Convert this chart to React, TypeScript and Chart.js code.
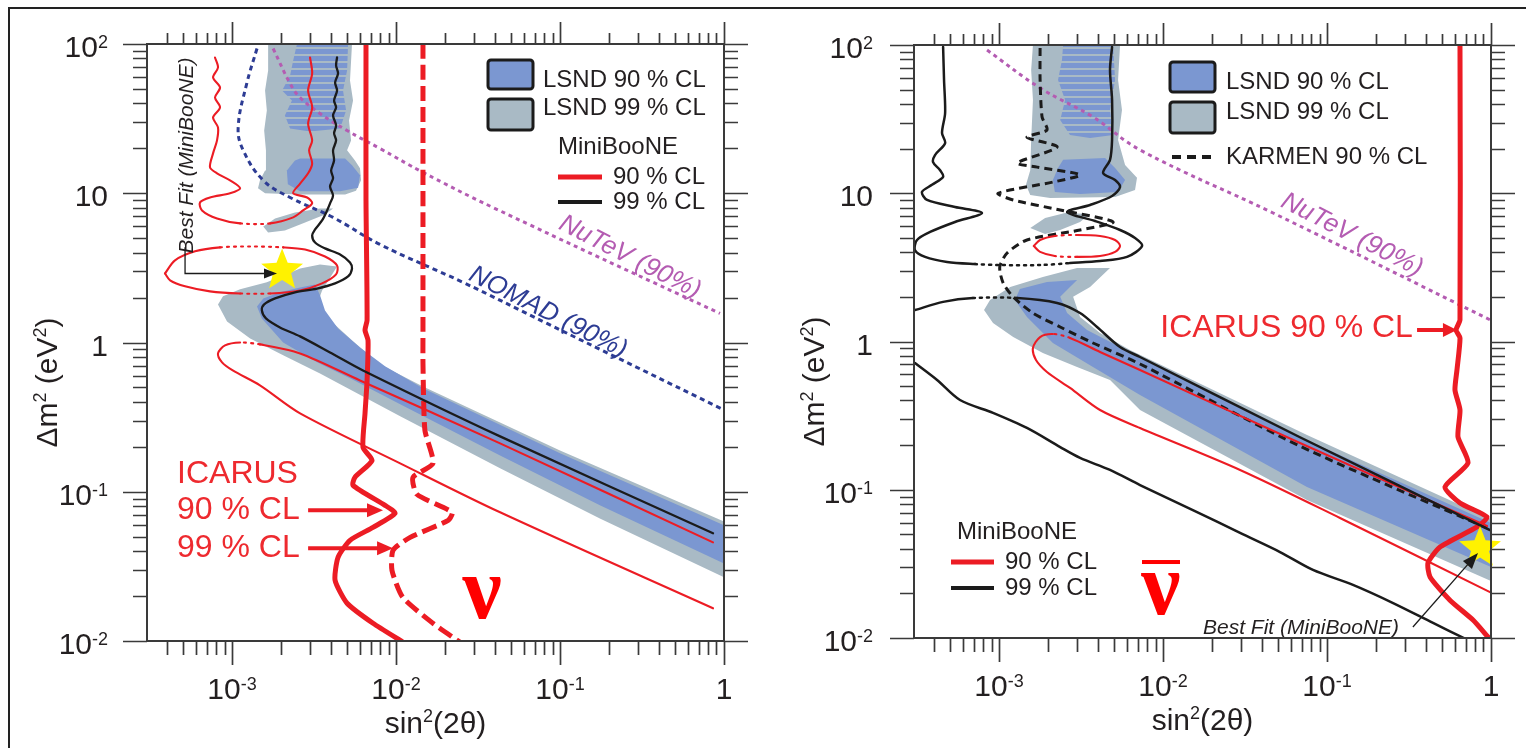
import { useEffect, useRef } from 'react';
import { Chart, registerables } from 'chart.js';

Chart.register(...registerables);

type Pt = [number, number];

const SANS = '"Liberation Sans", Arial, Helvetica, sans-serif';
const SERIF = '"Liberation Serif", "Times New Roman", serif';

// ---------------- axes ----------------
const sinRange: Pt = [3.03e-4, 1];
const dmRange: Pt = [0.01, 100];
const sinMajorTicks = [1e-3, 1e-2, 1e-1, 1];
const sinTickLabels: [string, string][] = [['10', '-3'], ['10', '-2'], ['10', '-1'], ['1', '']];
const dmMajorTicks = [1e-2, 1e-1, 1, 10, 100];
const dmTickLabels: [string, string][] = [['10', '-2'], ['10', '-1'], ['1', ''], ['10', ''], ['10', '2']];
const minorMantissas = [2, 3, 4, 5, 6, 7, 8, 9];

const COLORS = {
  lsnd99: '#A9BAC5',
  lsnd90: '#7B97D1',
  red: '#EC1C24',
  redText: '#EE2A2F',
  black: '#1B1B1B',
  nomad: '#2D3C94',
  nutev: '#B45CB2',
  axis: '#3A3A3A',
  text: '#231F20',
  star: '#FFF200',
  nu: '#FF0000',
};

// ---------------- neutrino panel (sin²2θ, Δm² in eV²) ----------------
const nuLsnd99Band: Pt[] = [[1.66e-3, 100], [5.39e-3, 100], [5.24e-3, 56.9], [5.47e-3, 41.8], [5.17e-3, 30.7], [5.32e-3, 22.6], [5.03e-3, 19.4], [5.62e-3, 16.6], [6.03e-3, 14.7], [6.12e-3, 12.2], [5.70e-3, 10.4], [4.89e-3, 9.82], [2.60e-3, 9.82], [1.59e-3, 10.0], [1.44e-3, 10.8], [1.48e-3, 12.2], [1.59e-3, 14.2], [1.61e-3, 19.4], [1.57e-3, 26.3], [1.63e-3, 35.9], [1.59e-3, 48.8], [1.66e-3, 66.4]];
const nuLsnd90Stripes: Pt[] = [[2.49e-3, 100], [5.10e-3, 100], [5.03e-3, 66.4], [4.75e-3, 48.8], [4.96e-3, 35.9], [4.56e-3, 27.2], [2.99e-3, 25.9], [2.26e-3, 27.2], [2.10e-3, 33.2], [2.32e-3, 41.8], [2.02e-3, 48.8], [2.26e-3, 61.5], [2.36e-3, 77.5]];
const nuLsnd90Patch: Pt[] = [[2.60e-3, 17.1], [4.89e-3, 17.1], [5.39e-3, 15.4], [6.03e-3, 13.2], [5.87e-3, 10.9], [4.56e-3, 10.3], [2.60e-3, 10.3], [2.19e-3, 11.5], [2.16e-3, 14.2], [2.42e-3, 16.6]];
const nuLsnd99Island: Pt[] = [[1.55e-3, 5.99], [1.83e-3, 6.78], [2.42e-3, 7.43], [3.44e-3, 7.91], [4.13e-3, 7.91], [3.69e-3, 7.21], [2.79e-3, 6.37], [2.10e-3, 5.63], [1.66e-3, 5.46]];
const nuLsnd99Main: Pt[] = [[4.37e-3, 3.23], [3.54e-3, 2.23], [3.34e-3, 1.86], [3.96e-3, 1.41], [5.47e-3, 1.02], [7.99e-3, 0.713], [1.46e-2, 0.508], [0.1, 0.189], [1, 0.0633], [1, 0.0267], [0.175, 0.0663], [4.31e-2, 0.1435], [1.06e-2, 0.32], [3.44e-3, 0.621], [2.05e-3, 0.82], [1.29e-3, 1.065], [9.32e-4, 1.385], [8.21e-4, 1.8], [8.81e-4, 2.04], [1.12e-3, 2.27], [1.63e-3, 2.53], [2.60e-3, 3.13], [3.44e-3, 3.33]];
const nuLsnd90Main: Pt[] = [[1.42e-3, 1.745], [1.55e-3, 1.975], [1.96e-3, 2.17], [2.60e-3, 2.34], [3.21e-3, 2.45], [3.44e-3, 2.07], [3.69e-3, 1.64], [4.43e-3, 1.243], [6.03e-3, 0.927], [8.57e-3, 0.692], [1.46e-2, 0.493], [0.1, 0.181], [1, 0.0596], [1, 0.0331], [0.175, 0.0811], [4.31e-2, 0.175], [1.06e-2, 0.385], [5.24e-3, 0.575], [3.30e-3, 0.736], [2.05e-3, 1.0], [1.52e-3, 1.45]];

const nuMb99: Pt[] = [[4.37e-3, 81.2], [4.31e-3, 71.8], [4.43e-3, 63.4], [4.25e-3, 55.2], [4.37e-3, 48.8], [4.19e-3, 41.8], [4.31e-3, 37.6], [4.13e-3, 33.2], [4.31e-3, 28.5], [4.19e-3, 25.2], [4.31e-3, 22.6], [4.13e-3, 19.4], [4.19e-3, 16.6], [4.02e-3, 14.2], [4.13e-3, 12.6], [3.96e-3, 11.1], [4.13e-3, 9.67], [3.96e-3, 8.55], [3.80e-3, 7.67], [3.54e-3, 6.57], [3.21e-3, 5.72], [3.08e-3, 5.22], [3.21e-3, 4.68], [3.69e-3, 4.27], [4.56e-3, 3.89], [5.24e-3, 3.44], [5.39e-3, 3.13], [5.10e-3, 2.77], [4.25e-3, 2.49], [3.30e-3, 2.3], [2.42e-3, 2.17], [1.83e-3, 1.975], [1.57e-3, 1.8], [1.52e-3, 1.64], [1.61e-3, 1.45], [1.96e-3, 1.262], [2.60e-3, 1.099], [3.96e-3, 0.858], [6.29e-3, 0.65], [4.31e-2, 0.235], [0.857, 0.0527]];
const nuMb90Upper: Pt[] = [[7.87e-4, 81.2], [8.21e-4, 69.6], [7.66e-4, 59.7], [8.45e-4, 51.1], [7.87e-4, 43.8], [8.45e-4, 37.6], [7.66e-4, 32.2], [8.21e-4, 27.6], [8.10e-4, 22.6], [7.66e-4, 18.5], [7.34e-4, 14.9], [8.10e-4, 13.6], [9.72e-4, 12.2], [1.12e-3, 10.8], [9.72e-4, 10.0], [7.34e-4, 9.37], [6.38e-4, 8.68], [6.56e-4, 7.67], [8.10e-4, 6.78], [1.12e-3, 6.28], [1.71e-3, 6.28], [2.36e-3, 6.89], [2.71e-3, 7.67], [3.08e-3, 8.55], [2.87e-3, 9.37], [2.36e-3, 10.0], [2.60e-3, 11.6], [2.91e-3, 13.6], [3.08e-3, 15.8], [2.95e-3, 19.4], [3.08e-3, 22.6], [2.91e-3, 29.3], [3.08e-3, 37.6], [2.91e-3, 48.8], [3.08e-3, 63.4], [2.99e-3, 81.2]];
const nuMb90Island: Pt[] = [[3.90e-4, 2.9], [4.49e-4, 3.55], [5.95e-4, 4.08], [8.45e-4, 4.34], [1.29e-3, 4.4], [2.05e-3, 4.34], [2.79e-3, 4.2], [3.69e-3, 3.77], [4.37e-3, 3.28], [4.31e-3, 2.86], [3.54e-3, 2.49], [2.60e-3, 2.23], [1.71e-3, 2.13], [1.12e-3, 2.13], [7.34e-4, 2.2], [5.17e-4, 2.38], [4.19e-4, 2.61], [3.90e-4, 2.9]];
const nuMb90Lower: Pt[] = [[0.857, 0.0458], [4.31e-2, 0.211], [6.03e-3, 0.557], [2.60e-3, 0.845], [1.48e-3, 0.971], [1.12e-3, 1.0], [9.06e-4, 0.956], [8.21e-4, 0.845], [8.69e-4, 0.736], [1.01e-3, 0.65], [1.48e-3, 0.516], [2.60e-3, 0.335], [1.06e-2, 0.155], [4.31e-2, 0.0728], [0.857, 0.01656]];
const nuIcarus90: Pt[] = [[6.56e-3, 100], [6.56e-3, 8.95], [6.66e-3, 1.41], [6.47e-3, 1.21], [6.75e-3, 1.03], [6.66e-3, 0.557], [6.47e-3, 0.335], [6.29e-3, 0.198], [7.14e-3, 0.162], [5.62e-3, 0.125], [5.47e-3, 0.1104], [8.57e-3, 0.0811], [9.86e-3, 0.0717], [7.24e-3, 0.0577], [5.24e-3, 0.0473], [4.43e-3, 0.0364], [4.25e-3, 0.0255], [5.03e-3, 0.0179], [7.24e-3, 0.01314], [1.09e-2, 0.0099]];
const nuIcarus99: Pt[] = [[1.46e-2, 100], [1.46e-2, 1.21], [1.46e-2, 0.723], [1.50e-2, 0.258], [1.68e-2, 0.155], [1.27e-2, 0.125], [1.34e-2, 0.0962], [2.20e-2, 0.0728], [2.08e-2, 0.0643], [1.22e-2, 0.0495], [9.59e-3, 0.0405], [9.45e-3, 0.0297], [1.10e-2, 0.0196], [1.68e-2, 0.01314], [2.46e-2, 0.0098]];
const nomad90: Pt[] = [[1.42e-3, 93.3], [1.23e-3, 54.4], [1.09e-3, 27.6], [1.17e-3, 19.4], [1.55e-3, 12.2], [2.26e-3, 9.37], [4.13e-3, 6.89], [7.98e-3, 4.54], [2.56e-2, 2.53], [8.33e-2, 1.342], [0.986, 0.356]];
const nutevNu: Pt[] = [[1.78e-3, 93.3], [2.26e-3, 54.4], [2.60e-3, 43.8], [3.44e-3, 34.2], [5.03e-3, 26.3], [7.98e-3, 19.95], [1.46e-2, 13.8], [3.90e-2, 8.03], [0.945, 1.566]];
const nuBestFit: Pt = [2.02e-3, 3.04];

// ---------------- antineutrino panel ----------------
const nubarLsnd99Band: Pt[] = [[1.61e-3, 100], [5.47e-3, 100], [5.32e-3, 58.1], [5.62e-3, 36.4], [5.32e-3, 22.9], [5.87e-3, 15.5], [6.94e-3, 12.7], [6.75e-3, 10.5], [5.10e-3, 9.43], [2.05e-3, 9.29], [1.55e-3, 9.73], [1.46e-3, 11.4], [1.55e-3, 14.3], [1.57e-3, 22.9], [1.61e-3, 42.6], [1.57e-3, 67.8]];
const nubarLsnd90Stripes: Pt[] = [[2.46e-3, 100], [4.96e-3, 100], [5.10e-3, 58.1], [4.75e-3, 36.4], [4.96e-3, 24.7], [3.59e-3, 23.6], [2.71e-3, 24.7], [2.36e-3, 31.2], [2.53e-3, 42.6], [2.29e-3, 58.1], [2.42e-3, 79.2]];
const nubarLsnd90Patch: Pt[] = [[2.46e-3, 16.8], [4.43e-3, 17.3], [5.10e-3, 14.8], [5.87e-3, 12.3], [5.32e-3, 10.2], [3.12e-3, 9.88], [2.19e-3, 10.2], [2.13e-3, 12.3], [2.29e-3, 14.8]];
const nubarLsnd99Island: Pt[] = [[1.55e-3, 5.83], [1.91e-3, 6.81], [2.53e-3, 7.36], [3.59e-3, 7.24], [3.12e-3, 6.4], [2.36e-3, 5.65], [1.91e-3, 5.31]];
const nubarLsnd99Main: Pt[] = [[4.75e-3, 3.13], [3.59e-3, 2.33], [2.83e-3, 2.0], [3.12e-3, 1.463], [4.13e-3, 1.141], [6.29e-3, 0.877], [7.55e-2, 0.234], [1, 0.0635], [1, 0.0242], [7.55e-2, 0.0853], [7.24e-3, 0.345], [4.75e-3, 0.55], [2.99e-3, 0.673], [1.85e-3, 0.836], [1.22e-3, 1.072], [9.19e-4, 1.333], [8.10e-4, 1.63], [8.81e-4, 1.905], [1.17e-3, 2.33], [1.85e-3, 2.72], [2.99e-3, 3.13]];
const nubarLsnd90Main: Pt[] = [[2.99e-3, 2.6], [2.36e-3, 2.0], [2.60e-3, 1.556], [3.44e-3, 1.196], [5.47e-3, 0.918], [7.55e-2, 0.216], [1, 0.0597], [1, 0.0301], [7.55e-2, 0.1044], [7.24e-3, 0.436], [3.74e-3, 0.673], [2.13e-3, 0.977], [1.48e-3, 1.463], [1.25e-3, 1.905], [1.34e-3, 2.26], [1.96e-3, 2.52]];

const nubarMb99Upper: Pt[] = [[4.56e-4, 96.9], [4.62e-4, 58.1], [4.69e-4, 34.8], [4.49e-4, 25.5], [4.69e-4, 21.8], [4.07e-4, 18.1], [3.96e-4, 16.2], [4.37e-4, 14.3], [4.56e-4, 12.9], [3.90e-4, 11.4], [3.39e-4, 10.2], [3.64e-4, 9.01], [5.39e-4, 8.08], [7.87e-4, 7.36], [5.39e-4, 6.4], [3.80e-4, 5.48], [3.16e-4, 4.84], [3.07e-4, 4.14], [3.54e-4, 3.72], [4.82e-4, 3.44], [7.14e-4, 3.33], [1.01e-3, 3.28], [1.78e-3, 3.28], [2.71e-3, 3.38], [4.13e-3, 3.49], [6.03e-3, 3.72], [7.45e-3, 4.41], [6.75e-3, 4.99], [5.47e-3, 5.65], [3.85e-3, 6.5], [2.60e-3, 7.47], [3.59e-3, 8.33], [4.89e-3, 9.58], [5.47e-3, 11.0], [5.10e-3, 12.3], [4.31e-3, 13.7], [4.75e-3, 16.8], [4.89e-3, 22.9], [4.89e-3, 42.6], [4.75e-3, 67.8], [4.89e-3, 96.9]];
const nubarMb99Band: Pt[] = [[3.07e-4, 1.63], [4.56e-4, 1.85], [6.94e-4, 1.965], [1.29e-3, 1.965], [2.26e-3, 1.82], [3.12e-3, 1.556], [3.96e-3, 1.253], [5.47e-3, 0.918], [7.24e-3, 0.786], [6.84e-2, 0.226], [0.986, 0.0535]];
const nubarMb99Lower: Pt[] = [[3.07e-4, 0.716], [4.19e-4, 0.55], [5.78e-4, 0.403], [9.19e-4, 0.33], [1.48e-3, 0.261], [2.36e-3, 0.194], [3.12e-3, 0.164], [4.75e-3, 0.136], [7.24e-3, 0.1076], [1.52e-2, 0.073], [2.95e-2, 0.0511], [5.17e-2, 0.038], [8.21e-2, 0.0288], [0.144, 0.0228], [0.253, 0.0172], [0.443, 0.01263], [0.694, 0.0099]];
const karmen90: Pt[] = [[1.78e-3, 95.4], [1.78e-3, 58.1], [1.83e-3, 32.7], [1.96e-3, 26.7], [1.48e-3, 23.9], [2.26e-3, 20.5], [1.29e-3, 16.0], [1.71e-3, 15.0], [3.12e-3, 13.3], [2.13e-3, 11.9], [9.86e-4, 10.0], [1.22e-3, 9.01], [2.36e-3, 7.71], [4.96e-3, 6.4], [3.12e-3, 5.65], [1.48e-3, 4.84], [1.12e-3, 3.95], [1.01e-3, 3.18], [1.06e-3, 2.48], [1.22e-3, 2.0], [1.61e-3, 1.556], [2.36e-3, 1.253], [3.74e-3, 0.977], [7.24e-3, 0.705], [6.84e-2, 0.197], [0.945, 0.0552]];
const nubarMb90Island: Pt[] = [[1.63e-3, 4.41], [1.78e-3, 4.84], [2.19e-3, 5.15], [2.99e-3, 5.23], [4.13e-3, 5.15], [5.10e-3, 4.84], [5.47e-3, 4.41], [5.10e-3, 4.02], [4.13e-3, 3.77], [2.99e-3, 3.72], [2.19e-3, 3.77], [1.78e-3, 4.02], [1.63e-3, 4.41]];
const nubarMb90Lower: Pt[] = [[0.945, 0.0569], [6.84e-2, 0.2066], [7.24e-3, 0.642], [4.13e-3, 0.85], [2.71e-3, 1.056], [2.13e-3, 1.124], [1.78e-3, 1.072], [1.61e-3, 0.904], [1.68e-3, 0.75], [1.96e-3, 0.623], [2.71e-3, 0.486], [4.13e-3, 0.345], [7.24e-3, 0.261], [2.95e-2, 0.136], [0.12, 0.0645], [0.986, 0.0204]];
const nubarIcarus90: Pt[] = [[0.647, 100], [0.647, 1.4], [0.612, 1.196], [0.647, 1.056], [0.62, 0.642], [0.603, 0.471], [0.647, 0.345], [0.629, 0.227], [0.724, 0.1516], [0.524, 0.1044], [0.647, 0.0814], [0.945, 0.0655], [0.821, 0.0561], [0.489, 0.0411], [0.413, 0.0321], [0.425, 0.0258], [0.562, 0.018], [0.777, 0.01322], [0.959, 0.01016]];
const nutevNubar: Pt[] = [[8.45e-4, 92.5], [1.78e-3, 51.3], [3.74e-3, 32.7], [7.24e-3, 19.6], [4.69e-2, 7.36], [0.986, 1.4]];
const nubarBestFit: Pt = [0.857, 0.0405];

// ---------------- dataset helpers ----------------
const toXY = (pts: Pt[]) => pts.map(([x, y]) => ({ x, y }));

// Horizontal banding used for the high-Δm² part of the LSND 90% region
let stripeCache: CanvasPattern | null = null;
function lsndStripes(ctx: CanvasRenderingContext2D): CanvasPattern | string {
  if (stripeCache) return stripeCache;
  const c = document.createElement('canvas');
  c.width = 4;
  c.height = 7;
  const g = c.getContext('2d');
  if (!g) return COLORS.lsnd90;
  g.fillStyle = COLORS.lsnd90;
  g.fillRect(0, 0, 4, 5);
  g.fillStyle = COLORS.lsnd99;
  g.fillRect(0, 5, 4, 2);
  stripeCache = ctx.createPattern(c, 'repeat');
  return stripeCache || COLORS.lsnd90;
}

function region(pts: Pt[], color: any, order: number) {
  return {
    data: toXY(pts),
    fill: 'shape',
    backgroundColor: color,
    borderWidth: 0,
    pointRadius: 0,
    tension: 0,
    order,
  };
}

interface CurveStyle {
  color: string;
  width: number;
  dash?: number[];
  dotted?: [number, number][];
  tension?: number;
  order?: number;
}

function curve(pts: Pt[], s: CurveStyle) {
  const dotted = s.dotted || [];
  return {
    data: toXY(pts),
    fill: false,
    borderColor: s.color,
    borderWidth: s.width,
    borderDash: s.dash || [],
    borderCapStyle: s.dash ? 'butt' : 'round',
    borderJoinStyle: 'round',
    pointRadius: 0,
    tension: s.tension ?? 0.3,
    order: s.order ?? 40,
    segment: {
      borderDash: (ctx: any) =>
        dotted.some(([a, b]) => ctx.p0DataIndex >= a && ctx.p1DataIndex <= b) ? [2, 5] : undefined,
    },
  };
}

const stripeFill = (c: any) => lsndStripes(c.chart.ctx);

// ---------------- annotations ----------------
interface TextNote { text: string; at: Pt; font: string; color: string; align?: CanvasTextAlign; rotate?: number }
interface ArrowNote { path: Pt[]; color: string; width: number; head: number; half: number }
type LegendItem =
  | { kind: 'box'; x: number; y: number; w: number; h: number; fill: string }
  | { kind: 'line'; x1: number; x2: number; y: number; color: string; width: number; dash?: number[] }
  | { kind: 'text'; x: number; y: number; text: string };

interface PanelSpec {
  id: string;
  padding: { left: number; top: number; right: number; bottom: number };
  datasets: any[];
  stars: Pt[];
  texts: TextNote[];
  arrows: ArrowNote[];
  legend: LegendItem[];
  nu: { at: Pt; bar: boolean };
  yLabelGap: number;
}

const italic = (px: number) => `italic ${px}px ${SANS}`;

const nuPanel: PanelSpec = {
  id: 'nu',
  padding: { left: 147, top: 44, right: 39, bottom: 107 },
  datasets: [
    region(nuLsnd99Band, COLORS.lsnd99, 100),
    region(nuLsnd99Island, COLORS.lsnd99, 100),
    region(nuLsnd99Main, COLORS.lsnd99, 100),
    region(nuLsnd90Stripes, stripeFill, 90),
    region(nuLsnd90Patch, COLORS.lsnd90, 90),
    region(nuLsnd90Main, COLORS.lsnd90, 90),
    curve(nutevNu, { color: COLORS.nutev, width: 3, dash: [4, 4], tension: 0.4, order: 60 }),
    curve(nomad90, { color: COLORS.nomad, width: 3, dash: [5, 4], tension: 0.4, order: 60 }),
    curve(nuIcarus90, { color: COLORS.red, width: 5, tension: 0.2, order: 50 }),
    curve(nuIcarus99, { color: COLORS.red, width: 5, dash: [15, 6], tension: 0.2, order: 50 }),
    curve(nuMb99, { color: COLORS.black, width: 2.3 }),
    curve(nuMb90Upper, { color: COLORS.red, width: 2.1, dotted: [[19, 20]] }),
    curve(nuMb90Island, { color: COLORS.red, width: 2.1, dotted: [[3, 5], [12, 13]] }),
    curve(nuMb90Lower, { color: COLORS.red, width: 2.1, dotted: [[4, 5]] }),
  ],
  stars: [nuBestFit],
  texts: [
    { text: 'NuTeV (90%)', at: [0.267, 3.72], font: italic(26), color: COLORS.nutev, rotate: 27 },
    { text: 'NOMAD (90%)', at: [8.45e-2, 1.59], font: italic(26), color: COLORS.nomad, rotate: 27 },
    { text: 'Best Fit (MiniBooNE)', at: [5.32e-4, 17.9], font: italic(21), color: COLORS.text, rotate: -90 },
    { text: 'ICARUS', at: [4.62e-4, 0.1307], font: `32px ${SANS}`, color: COLORS.redText, align: 'left' },
    { text: '90 % CL', at: [4.62e-4, 0.0751], font: `32px ${SANS}`, color: COLORS.redText, align: 'left' },
    { text: '99 % CL', at: [4.62e-4, 0.0418], font: `32px ${SANS}`, color: COLORS.redText, align: 'left' },
  ],
  arrows: [
    { path: [[5.17e-4, 4.34], [5.17e-4, 2.9], [1.88e-3, 2.9]], color: COLORS.black, width: 1.3, head: 13, half: 5 },
    { path: [[2.91e-3, 0.0751], [8.33e-3, 0.0751]], color: COLORS.red, width: 4, head: 16, half: 7 },
    { path: [[2.91e-3, 0.0418], [9.59e-3, 0.0418]], color: COLORS.red, width: 4, head: 16, half: 7 },
  ],
  legend: [
    { kind: 'box', x: 341, y: 16, w: 45, h: 29, fill: COLORS.lsnd90 },
    { kind: 'box', x: 341, y: 55, w: 45, h: 31, fill: COLORS.lsnd99 },
    { kind: 'text', x: 396, y: 36, text: 'LSND 90 % CL' },
    { kind: 'text', x: 396, y: 64, text: 'LSND 99 % CL' },
    { kind: 'text', x: 411, y: 103, text: 'MiniBooNE' },
    { kind: 'line', x1: 411, x2: 455, y: 133, color: COLORS.red, width: 5 },
    { kind: 'line', x1: 411, x2: 455, y: 158, color: COLORS.black, width: 4 },
    { kind: 'text', x: 466, y: 133, text: '90 % CL' },
    { kind: 'text', x: 466, y: 158, text: '99 % CL' },
  ],
  nu: { at: [3.35e-2, 0.0193], bar: false },
  yLabelGap: 39,
};

const nubarPanel: PanelSpec = {
  id: 'nubar',
  padding: { left: 151, top: 45, right: 35, bottom: 110 },
  datasets: [
    region(nubarLsnd99Band, COLORS.lsnd99, 100),
    region(nubarLsnd99Island, COLORS.lsnd99, 100),
    region(nubarLsnd99Main, COLORS.lsnd99, 100),
    region(nubarLsnd90Stripes, stripeFill, 90),
    region(nubarLsnd90Patch, COLORS.lsnd90, 90),
    region(nubarLsnd90Main, COLORS.lsnd90, 90),
    curve(nutevNubar, { color: COLORS.nutev, width: 3, dash: [4, 4], tension: 0.4, order: 60 }),
    curve(nubarIcarus90, { color: COLORS.red, width: 5, tension: 0.2, order: 50 }),
    curve(karmen90, { color: COLORS.black, width: 3, dash: [8, 5], tension: 0.25, order: 45 }),
    curve(nubarMb99Upper, { color: COLORS.black, width: 2.5, dotted: [[20, 23]] }),
    curve(nubarMb99Band, { color: COLORS.black, width: 2.5, dotted: [[2, 3]] }),
    curve(nubarMb99Lower, { color: COLORS.black, width: 2.5 }),
    curve(nubarMb90Island, { color: COLORS.red, width: 2.1, dotted: [[2, 3], [9, 10]] }),
    curve(nubarMb90Lower, { color: COLORS.red, width: 2.1, dotted: [[4, 5]] }),
  ],
  stars: [nubarBestFit],
  texts: [
    { text: 'NuTeV (90%)', at: [0.142, 5.23], font: italic(26), color: COLORS.nutev, rotate: 27 },
    { text: 'ICARUS 90 % CL', at: [0.334, 1.233], font: `32px ${SANS}`, color: COLORS.redText, align: 'right' },
    { text: 'Best Fit (MiniBooNE)', at: [6.94e-2, 0.0117], font: italic(21), color: COLORS.text },
  ],
  arrows: [
    { path: [[0.354, 1.196], [0.62, 1.196]], color: COLORS.red, width: 4, head: 14, half: 7 },
    { path: [[0.334, 0.01187], [0.833, 0.0375]], color: COLORS.black, width: 1.3, head: 16, half: 6 },
  ],
  legend: [
    { kind: 'box', x: 256, y: 17, w: 45, h: 30, fill: COLORS.lsnd90 },
    { kind: 'box', x: 256, y: 57, w: 45, h: 31, fill: COLORS.lsnd99 },
    { kind: 'text', x: 312, y: 37, text: 'LSND 90 % CL' },
    { kind: 'text', x: 312, y: 67, text: 'LSND 99 % CL' },
    { kind: 'line', x1: 258, x2: 299, y: 112, color: COLORS.black, width: 4, dash: [9, 6] },
    { kind: 'text', x: 312, y: 112, text: 'KARMEN 90 % CL' },
    { kind: 'text', x: 43, y: 487, text: 'MiniBooNE' },
    { kind: 'line', x1: 37, x2: 80, y: 517, color: COLORS.red, width: 5 },
    { kind: 'line', x1: 37, x2: 80, y: 543, color: COLORS.black, width: 4 },
    { kind: 'text', x: 91, y: 517, text: '90 % CL' },
    { kind: 'text', x: 91, y: 543, text: '99 % CL' },
  ],
  nu: { at: [9.72e-3, 0.0198], bar: true },
  yLabelGap: 41,
};

// ---------------- drawing helpers ----------------
function logMinorTicks(range: Pt) {
  const out: number[] = [];
  const lo = Math.floor(Math.log10(range[0]));
  const hi = Math.ceil(Math.log10(range[1]));
  for (let e = lo; e <= hi; e++) {
    for (const m of minorMantissas) {
      const v = m * Math.pow(10, e);
      if (v > range[0] * 1.001 && v < range[1] * 0.999) out.push(v);
    }
  }
  return out;
}

function drawPower(ctx: CanvasRenderingContext2D, base: string, exp: string, x: number, y: number, align: 'center' | 'right') {
  ctx.font = `30px ${SANS}`;
  const wb = ctx.measureText(base).width;
  ctx.font = `18px ${SANS}`;
  const we = exp ? ctx.measureText(exp).width : 0;
  const start = align === 'center' ? x - (wb + we) / 2 : x - (wb + we);
  ctx.textAlign = 'left';
  ctx.textBaseline = 'alphabetic';
  ctx.font = `30px ${SANS}`;
  ctx.fillText(base, start, y);
  if (exp) {
    ctx.font = `18px ${SANS}`;
    ctx.fillText(exp, start + wb, y - 9);
  }
}

// Text with superscript pieces, centred on x, baseline y
function drawRich(ctx: CanvasRenderingContext2D, parts: [string, boolean][], x: number, y: number) {
  const fontOf = (sup: boolean) => (sup ? `18px ${SANS}` : `30px ${SANS}`);
  let total = 0;
  for (const [t, sup] of parts) {
    ctx.font = fontOf(sup);
    total += ctx.measureText(t).width;
  }
  let cx = x - total / 2;
  ctx.textAlign = 'left';
  ctx.textBaseline = 'alphabetic';
  for (const [t, sup] of parts) {
    ctx.font = fontOf(sup);
    ctx.fillText(t, cx, sup ? y - 11 : y);
    cx += ctx.measureText(t).width;
  }
}

function drawStar(ctx: CanvasRenderingContext2D, cx: number, cy: number, R: number, r: number) {
  ctx.beginPath();
  for (let i = 0; i < 10; i++) {
    const ang = -Math.PI / 2 + (i * Math.PI) / 5;
    const rad = i % 2 === 0 ? R : r;
    const px = cx + rad * Math.cos(ang);
    const py = cy + rad * Math.sin(ang);
    if (i === 0) ctx.moveTo(px, py);
    else ctx.lineTo(px, py);
  }
  ctx.closePath();
  ctx.fillStyle = COLORS.star;
  ctx.fill();
}

function drawArrow(ctx: CanvasRenderingContext2D, pts: { x: number; y: number }[], a: ArrowNote) {
  const n = pts.length;
  const tip = pts[n - 1];
  const prev = pts[n - 2];
  const ang = Math.atan2(tip.y - prev.y, tip.x - prev.x);
  const bx = tip.x - a.head * Math.cos(ang);
  const by = tip.y - a.head * Math.sin(ang);
  ctx.strokeStyle = a.color;
  ctx.fillStyle = a.color;
  ctx.lineWidth = a.width;
  ctx.lineCap = 'butt';
  ctx.setLineDash([]);
  ctx.beginPath();
  ctx.moveTo(pts[0].x, pts[0].y);
  for (let i = 1; i < n - 1; i++) ctx.lineTo(pts[i].x, pts[i].y);
  ctx.lineTo(bx + Math.cos(ang), by + Math.sin(ang));
  ctx.stroke();
  ctx.beginPath();
  ctx.moveTo(tip.x, tip.y);
  ctx.lineTo(bx + a.half * Math.sin(ang), by - a.half * Math.cos(ang));
  ctx.lineTo(bx - a.half * Math.sin(ang), by + a.half * Math.cos(ang));
  ctx.closePath();
  ctx.fill();
}

function decorPlugin(spec: PanelSpec) {
  const xMinor = logMinorTicks(sinRange);
  const yMinor = logMinorTicks(dmRange);
  return {
    id: `decor-${spec.id}`,
    afterDatasetsDraw(chart: any) {
      const { ctx, chartArea: a, scales } = chart;
      const X = (v: number) => scales.x.getPixelForValue(v);
      const Y = (v: number) => scales.y.getPixelForValue(v);
      ctx.save();

      // best-fit stars
      for (const s of spec.stars) drawStar(ctx, X(s[0]), Y(s[1]), 22, 9.5);

      // arrows
      for (const ar of spec.arrows) drawArrow(ctx, ar.path.map(([x, y]) => ({ x: X(x), y: Y(y) })), ar);

      // text labels
      for (const t of spec.texts) {
        ctx.save();
        ctx.translate(X(t.at[0]), Y(t.at[1]));
        if (t.rotate) ctx.rotate((t.rotate * Math.PI) / 180);
        ctx.font = t.font;
        ctx.fillStyle = t.color;
        ctx.textAlign = t.align || 'center';
        ctx.textBaseline = 'middle';
        ctx.fillText(t.text, 0, 0);
        ctx.restore();
      }

      // neutrino symbol
      {
        const cx = X(spec.nu.at[0]);
        const cy = Y(spec.nu.at[1]);
        ctx.font = `bold 88px ${SERIF}`;
        ctx.fillStyle = COLORS.nu;
        ctx.textAlign = 'center';
        ctx.textBaseline = 'alphabetic';
        ctx.fillText('\u03BD', cx, cy + 20);
        if (spec.nu.bar) {
          ctx.fillRect(cx - 19, cy - 34, 38, 4);
        }
      }

      // legend
      for (const it of spec.legend) {
        if (it.kind === 'box') {
          ctx.fillStyle = it.fill;
          ctx.strokeStyle = COLORS.black;
          ctx.lineWidth = 3;
          ctx.setLineDash([]);
          ctx.beginPath();
          const bx = a.left + it.x;
          const by = a.top + it.y;
          if ((ctx as any).roundRect) (ctx as any).roundRect(bx, by, it.w, it.h, 3);
          else ctx.rect(bx, by, it.w, it.h);
          ctx.fill();
          ctx.stroke();
        } else if (it.kind === 'line') {
          ctx.strokeStyle = it.color;
          ctx.lineWidth = it.width;
          ctx.lineCap = 'butt';
          ctx.setLineDash(it.dash || []);
          ctx.beginPath();
          ctx.moveTo(a.left + it.x1, a.top + it.y);
          ctx.lineTo(a.left + it.x2, a.top + it.y);
          ctx.stroke();
          ctx.setLineDash([]);
        } else {
          ctx.font = `24px ${SANS}`;
          ctx.fillStyle = COLORS.text;
          ctx.textAlign = 'left';
          ctx.textBaseline = 'middle';
          ctx.fillText(it.text, a.left + it.x, a.top + it.y);
        }
      }

      // frame and ticks
      ctx.setLineDash([]);
      ctx.strokeStyle = COLORS.axis;
      ctx.lineWidth = 2;
      ctx.strokeRect(a.left, a.top, a.right - a.left, a.bottom - a.top);
      ctx.lineWidth = 1.7;
      ctx.lineCap = 'butt';
      ctx.beginPath();
      const vTick = (v: number, bottomLen: number, topLen: number) => {
        const px = Math.round(X(v)) + 0.5;
        ctx.moveTo(px, a.bottom);
        ctx.lineTo(px, a.bottom + bottomLen);
        ctx.moveTo(px, a.top);
        ctx.lineTo(px, a.top - topLen);
      };
      const hTick = (v: number, len: number) => {
        const py = Math.round(Y(v)) + 0.5;
        ctx.moveTo(a.left, py);
        ctx.lineTo(a.left - len, py);
        ctx.moveTo(a.right, py);
        ctx.lineTo(a.right + len, py);
      };
      for (const v of xMinor) vTick(v, 14, 11);
      for (const v of sinMajorTicks) vTick(v, 24, 22);
      for (const v of yMinor) hTick(v, 14);
      for (const v of dmMajorTicks) hTick(v, 24);
      ctx.stroke();

      // tick labels
      ctx.fillStyle = COLORS.text;
      sinMajorTicks.forEach((v, i) => {
        const [b, e] = sinTickLabels[i];
        drawPower(ctx, b, e, X(v), a.bottom + 58, 'center');
      });
      dmMajorTicks.forEach((v, i) => {
        const [b, e] = dmTickLabels[i];
        drawPower(ctx, b, e, a.left - spec.yLabelGap, Y(v) + 13, 'right');
      });

      // axis titles
      drawRich(ctx, [['sin', false], ['2', true], ['(2\u03B8)', false]], (a.left + a.right) / 2, a.bottom + 92);
      ctx.save();
      ctx.translate(a.left - 90, (a.top + a.bottom) / 2 + 40);
      ctx.rotate(-Math.PI / 2);
      drawRich(ctx, [['\u0394m', false], ['2', true], [' (eV', false], ['2', true], [')', false]], 0, 0);
      ctx.restore();

      ctx.restore();
    },
  };
}

function buildPanel(canvas: HTMLCanvasElement, spec: PanelSpec) {
  return new Chart(canvas, {
    type: 'line',
    data: { datasets: spec.datasets as any },
    options: {
      animation: false,
      responsive: false,
      maintainAspectRatio: false,
      devicePixelRatio: 1,
      events: [],
      layout: { padding: spec.padding },
      scales: {
        x: { type: 'logarithmic', min: sinRange[0], max: sinRange[1], bounds: 'data', display: false },
        y: { type: 'logarithmic', min: dmRange[0], max: dmRange[1], bounds: 'data', display: false },
      },
      plugins: { legend: { display: false }, tooltip: { enabled: false } },
      elements: { point: { radius: 0 } },
    } as any,
    plugins: [decorPlugin(spec)],
  });
}

export default function App() {
  const leftRef = useRef<HTMLCanvasElement>(null);
  const rightRef = useRef<HTMLCanvasElement>(null);

  useEffect(() => {
    const charts = [buildPanel(leftRef.current!, nuPanel), buildPanel(rightRef.current!, nubarPanel)];
    return () => charts.forEach((c) => c.destroy());
  }, []);

  return (
    <div style={{ position: 'absolute', left: 0, top: 0, width: 1526, height: 748, background: '#fff', overflow: 'hidden' }}>
      <div
        style={{
          position: 'absolute',
          left: 8,
          top: 7,
          right: -10,
          bottom: -10,
          borderLeft: '2px solid #222',
          borderTop: '2px solid #222',
        }}
      />
      <canvas ref={leftRef} width={763} height={748} style={{ position: 'absolute', left: 0, top: 0 }} />
      <canvas ref={rightRef} width={763} height={748} style={{ position: 'absolute', left: 763, top: 0 }} />
    </div>
  );
}
